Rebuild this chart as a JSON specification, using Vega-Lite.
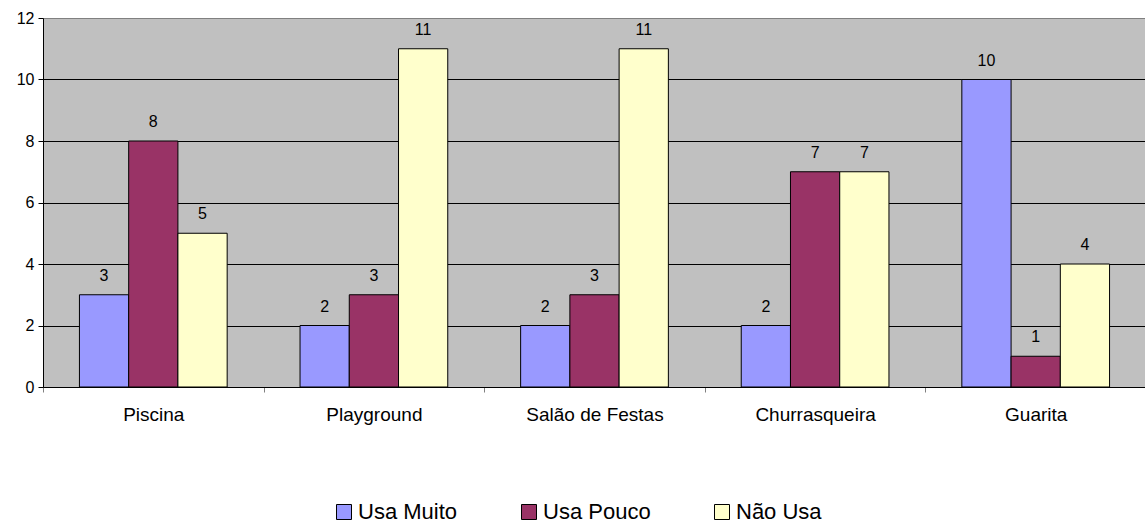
{
  "$schema": "https://vega.github.io/schema/vega-lite/v6.json",
  "autosize": "none",
  "width": 1103,
  "height": 369,
  "padding": {"left": 43, "top": 18, "right": 0, "bottom": 136},
  "background": "white",
  "config": {
    "font": "Liberation Sans",
    "view": {"fill": "#C0C0C0", "stroke": null}
  },
  "data": {
    "values": [
      {"area": "Piscina", "uso": "Usa Muito", "n": 3},
      {"area": "Piscina", "uso": "Usa Pouco", "n": 8},
      {"area": "Piscina", "uso": "Não Usa", "n": 5},
      {"area": "Playground", "uso": "Usa Muito", "n": 2},
      {"area": "Playground", "uso": "Usa Pouco", "n": 3},
      {"area": "Playground", "uso": "Não Usa", "n": 11},
      {"area": "Salão de Festas", "uso": "Usa Muito", "n": 2},
      {"area": "Salão de Festas", "uso": "Usa Pouco", "n": 3},
      {"area": "Salão de Festas", "uso": "Não Usa", "n": 11},
      {"area": "Churrasqueira", "uso": "Usa Muito", "n": 2},
      {"area": "Churrasqueira", "uso": "Usa Pouco", "n": 7},
      {"area": "Churrasqueira", "uso": "Não Usa", "n": 7},
      {"area": "Guarita", "uso": "Usa Muito", "n": 10},
      {"area": "Guarita", "uso": "Usa Pouco", "n": 1},
      {"area": "Guarita", "uso": "Não Usa", "n": 4}
    ]
  },
  "encoding": {
    "x": {
      "field": "area",
      "type": "nominal",
      "sort": ["Piscina", "Playground", "Salão de Festas", "Churrasqueira", "Guarita"],
      "scale": {"paddingInner": 0, "paddingOuter": 0},
      "axis": {
        "title": null,
        "labelAngle": 0,
        "labelFontSize": 19,
        "labelColor": "black",
        "labelPadding": 13,
        "tickBand": "extent",
        "tickSize": 5,
        "tickColor": "#808080",
        "domainColor": "black",
        "grid": false
      }
    },
    "xOffset": {
      "field": "uso",
      "type": "nominal",
      "sort": ["Usa Muito", "Usa Pouco", "Não Usa"],
      "scale": {"paddingInner": 0, "paddingOuter": 0.74}
    },
    "y": {
      "field": "n",
      "type": "quantitative",
      "scale": {"domain": [0, 12], "nice": false},
      "axis": {
        "title": null,
        "values": [0, 2, 4, 6, 8, 10, 12],
        "labelFontSize": 16,
        "labelColor": "black",
        "labelPadding": 4,
        "tickSize": 5,
        "tickColor": "black",
        "domainColor": "black",
        "grid": true,
        "gridColor": {"condition": {"test": "datum.value == 12", "value": "#808080"}, "value": "black"},
        "gridWidth": 1,
        "gridOpacity": 1
      }
    }
  },
  "layer": [
    {
      "mark": {"type": "bar", "stroke": "black", "strokeWidth": 1},
      "encoding": {
        "color": {
          "field": "uso",
          "type": "nominal",
          "sort": ["Usa Muito", "Usa Pouco", "Não Usa"],
          "scale": {
            "domain": ["Usa Muito", "Usa Pouco", "Não Usa"],
            "range": ["#9999FF", "#993366", "#FFFFCC"]
          },
          "legend": {
            "title": null,
            "orient": "none",
            "direction": "horizontal",
            "columns": 3,
            "legendX": 290,
            "legendY": 483,
            "symbolType": "square",
            "symbolSize": 225,
            "symbolStrokeColor": "black",
            "symbolStrokeWidth": 1,
            "symbolOpacity": 1,
            "labelFontSize": 22,
            "labelColor": "black",
            "labelOffset": 3,
            "columnPadding": 60
          }
        }
      }
    },
    {
      "mark": {"type": "text", "dy": -19, "fontSize": 16, "color": "black"},
      "encoding": {"text": {"field": "n", "type": "quantitative"}}
    }
  ]
}
